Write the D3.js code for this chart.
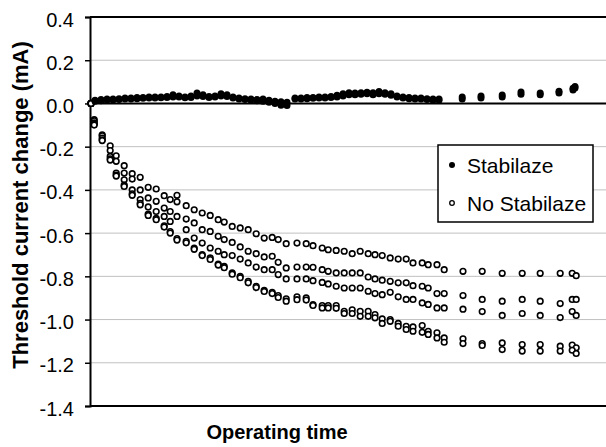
<!DOCTYPE html>
<html>
<head>
<meta charset="utf-8">
<script src="https://cdn.jsdelivr.net/npm/d3@7"></script>
<style>
  body { margin: 0; background: #fff; }
  text { font-family: 'Liberation Sans', Arial, sans-serif; }
</style>
</head>
<body>
<div id="graf"></div>
<script>
// Threshold current change vs operating time

// tiempos (unidades arbitrarias, el eje x no tiene etiquetas)
const tiemposNo = [0, 8, 28, 48, 63, 83, 103, 123, 143, 163, 183, 198, 215, 238, 258, 278, 298, 318, 333, 353,
  373, 393, 413, 433, 453, 468, 488, 515, 538, 555, 578, 593, 613, 633, 653, 673, 693, 710, 728, 748,
  768, 788, 805, 828, 843, 865, 883, 930, 978, 1028, 1078, 1123, 1173, 1203, 1213]

// No Stabilaze: cinco curvas
const noA = [0, -0.075, -0.145, -0.196, -0.242, -0.288, -0.325, -0.342, -0.388, -0.396, -0.427, -0.445, -0.425, -0.473, -0.492, -0.507, -0.518, -0.538, -0.549, -0.569,
  -0.576, -0.584, -0.603, -0.623, -0.620, -0.630, -0.649, -0.646, -0.649, -0.658, -0.669, -0.677, -0.680, -0.684, -0.695, -0.684, -0.695, -0.700, -0.704, -0.715,
  -0.720, -0.720, -0.738, -0.738, -0.746, -0.746, -0.769, -0.777, -0.777, -0.786, -0.786, -0.786, -0.786, -0.786, -0.797]
const noB = [0, -0.080, -0.150, -0.218, -0.268, -0.322, -0.350, -0.400, -0.437, -0.453, -0.484, -0.500, -0.455, -0.535, -0.553, -0.584, -0.592, -0.615, -0.630, -0.643,
  -0.664, -0.684, -0.695, -0.710, -0.707, -0.735, -0.761, -0.757, -0.757, -0.758, -0.769, -0.777, -0.784, -0.784, -0.784, -0.784, -0.803, -0.812, -0.818, -0.823,
  -0.830, -0.830, -0.843, -0.846, -0.854, -0.880, -0.880, -0.889, -0.907, -0.915, -0.907, -0.915, -0.926, -0.907, -0.907]
const noC = [0, -0.090, -0.160, -0.245, -0.322, -0.353, -0.400, -0.445, -0.479, -0.500, -0.523, -0.546, -0.523, -0.584, -0.623, -0.646, -0.669, -0.684, -0.700, -0.704,
  -0.720, -0.738, -0.757, -0.769, -0.769, -0.792, -0.812, -0.812, -0.812, -0.820, -0.828, -0.835, -0.846, -0.854, -0.854, -0.854, -0.869, -0.880, -0.885, -0.874,
  -0.895, -0.907, -0.907, -0.923, -0.930, -0.946, -0.946, -0.952, -0.963, -0.981, -0.972, -0.981, -0.991, -0.963, -0.981]
const noD1 = [0, -0.095, -0.168, -0.256, -0.332, -0.378, -0.418, -0.462, -0.512, -0.532, -0.566, -0.593, -0.625, -0.638, -0.669, -0.700, -0.715, -0.743, -0.754, -0.784,
  -0.800, -0.823, -0.846, -0.865, -0.874, -0.889, -0.904, -0.895, -0.900, -0.931, -0.935, -0.935, -0.935, -0.962, -0.955, -0.962, -0.962, -0.977, -0.997, -1.000,
  -1.018, -1.031, -1.034, -1.028, -1.054, -1.061, -1.085, -1.089, -1.111, -1.108, -1.116, -1.116, -1.123, -1.118, -1.131]
const noD2 = [0, -0.100, -0.172, -0.262, -0.336, -0.384, -0.425, -0.469, -0.518, -0.538, -0.572, -0.600, -0.632, -0.645, -0.675, -0.704, -0.722, -0.748, -0.760, -0.790,
  -0.806, -0.830, -0.852, -0.870, -0.880, -0.898, -0.915, -0.908, -0.910, -0.935, -0.946, -0.946, -0.948, -0.972, -0.972, -0.985, -0.985, -0.992, -1.018, -1.008,
  -1.031, -1.046, -1.054, -1.059, -1.069, -1.085, -1.105, -1.111, -1.120, -1.139, -1.146, -1.146, -1.146, -1.142, -1.157]

// Stabilaze
const tiemposSi = [10, 25, 40, 55, 70, 85, 100, 115, 130, 145, 160, 175, 190, 205, 220, 235, 250, 265, 280, 295,
  310, 325, 340, 355, 370, 385, 400, 415, 430, 445, 460, 475, 490,
  510, 525, 540, 555, 570, 585, 600, 615, 630, 645, 660, 675, 690, 705, 720, 735, 750, 765, 780, 795,
  810, 825, 840, 855, 870,
  928, 975, 1028, 1075, 1123, 1170, 1205, 1210]
const siA = [0.015, 0.018, 0.020, 0.020, 0.022, 0.025, 0.025, 0.028, 0.028, 0.030, 0.030, 0.030, 0.032, 0.040, 0.035, 0.030, 0.035, 0.048, 0.040, 0.032,
  0.035, 0.045, 0.040, 0.030, 0.025, 0.022, 0.020, 0.018, 0.020, 0.015, 0.010, 0.008, 0.005,
  0.025, 0.025, 0.028, 0.028, 0.030, 0.030, 0.032, 0.038, 0.045, 0.050, 0.048, 0.050, 0.052, 0.050, 0.055, 0.050, 0.045, 0.035, 0.030, 0.028,
  0.025, 0.025, 0.022, 0.020, 0.020,
  0.030, 0.034, 0.039, 0.053, 0.048, 0.057, 0.070, 0.078]
const siB = [0.010, 0.012, 0.015, 0.016, 0.018, 0.020, 0.020, 0.022, 0.024, 0.025, 0.025, 0.026, 0.028, 0.030, 0.030, 0.026, 0.028, 0.035, 0.032, 0.028,
  0.030, 0.035, 0.032, 0.025, 0.020, 0.018, 0.015, 0.012, 0.010, 0.005, 0.000, -0.008, -0.010,
  0.020, 0.020, 0.022, 0.024, 0.025, 0.025, 0.028, 0.030, 0.035, 0.040, 0.040, 0.042, 0.045, 0.040, 0.045, 0.042, 0.038, 0.030, 0.025, 0.022,
  0.020, 0.020, 0.018, 0.015, 0.015,
  0.020, 0.025, 0.030, 0.042, 0.040, 0.048, 0.062, 0.072]

// eje y
const yTicks  = [0.4, 0.2, 0.0, -0.2, -0.4, -0.6, -0.8, -1.0, -1.2, -1.4]
const yLabels = ['0.4', '0.2', '0.0', '-0.2', '-0.4', '-0.6', '-0.8', '-1.0', '-1.2', '-1.4']
const leyenda = ['Stabilaze', 'No Stabilaze']

ancho_total = 606
alto_total  = 447
margins = { top: 17, left: 90, right: 0, bottom: 41 }
ancho = ancho_total - margins.left - margins.right
alto  = alto_total - margins.top - margins.bottom

svg = d3.select('#graf').append('svg')
        .attr('width', ancho_total)
        .attr('height', alto_total)

g = svg.append('g')
       .attr('transform', `translate(${ margins.left }, ${ margins.top })`)

// Escaladores
x = d3.scaleLinear().domain([-2.5, 1287.5]).range([0, ancho])
y = d3.scaleLinear().domain([-1.4, 0.4]).range([alto, 0])

// lineas de cuadricula
g.append('g')
  .selectAll('line')
  .data(yTicks.filter(d => d != 0.4 && d != 0 && d != -1.4))
  .enter().append('line')
    .attr('x1', 0).attr('x2', ancho)
    .attr('y1', d => y(d)).attr('y2', d => y(d))
    .attr('stroke', '#c0c0c0')
    .attr('stroke-width', 1)

// bordes negros y linea del cero
;[0.4, 0, -1.4].forEach(v => {
  g.append('line')
    .attr('x1', 0).attr('x2', ancho)
    .attr('y1', y(v)).attr('y2', y(v))
    .attr('stroke', 'black')
    .attr('stroke-width', 2)
})

// eje y
yAxis = d3.axisLeft(y)
          .tickValues(yTicks)
          .tickSize(5)
          .tickPadding(11)
          .tickFormat((d, i) => yLabels[i])
ejeY = g.append('g').call(yAxis)
ejeY.select('.domain').attr('stroke-width', 2)
ejeY.selectAll('.tick line').attr('stroke-width', 1.5)
ejeY.selectAll('.tick text')
    .attr('font-size', '20px')
    .attr('font-family', "'Liberation Sans', Arial, sans-serif")
    .attr('fill', 'black')
    .attr('dy', '0.45em')

// series No Stabilaze (circulos abiertos)
;[noA, noB, noC, noD1, noD2].forEach(serie => {
  g.append('g')
    .selectAll('circle')
    .data(tiemposNo.map((t, i) => ({ t: t, v: serie[i] })))
    .enter().append('circle')
      .attr('cx', d => x(d.t))
      .attr('cy', d => y(d.v))
      .attr('r', 2.8)
      .attr('fill', 'white')
      .attr('stroke', 'black')
      .attr('stroke-width', 1.6)
})

// series Stabilaze (circulos rellenos)
;[siA, siB].forEach(serie => {
  g.append('g')
    .selectAll('circle')
    .data(tiemposSi.map((t, i) => ({ t: t, v: serie[i] })))
    .enter().append('circle')
      .attr('cx', d => x(d.t))
      .attr('cy', d => y(d.v))
      .attr('r', 3.5)
      .attr('fill', 'black')
})

// Leyenda
leg = g.append('g').attr('transform', `translate(${ 438 - margins.left }, ${ 145 - margins.top })`)
leg.append('rect')
  .attr('x', 0).attr('y', 0)
  .attr('width', 155).attr('height', 77)
  .attr('fill', 'white')
  .attr('stroke', 'black')
  .attr('stroke-width', 1.5)

leyenda.forEach((d, i) => {
  leg.append('circle')
    .attr('cx', 14)
    .attr('cy', 20 + i * 38)
    .attr('r', i == 0 ? 3 : 2.3)
    .attr('fill', i == 0 ? 'black' : 'white')
    .attr('stroke', 'black')
    .attr('stroke-width', i == 0 ? 0 : 1.3)
  leg.append('text')
    .attr('x', 29)
    .attr('y', 28 + i * 38)
    .attr('font-size', '21px')
    .attr('fill', 'black')
    .text(d)
})

// titulos de ejes
svg.append('text')
  .attr('x', 277)
  .attr('y', 439)
  .attr('text-anchor', 'middle')
  .attr('font-size', '20px')
  .attr('font-weight', 'bold')
  .text('Operating time')

svg.append('text')
  .attr('transform', 'translate(28, 205) rotate(-90)')
  .attr('text-anchor', 'middle')
  .attr('font-size', '22px')
  .attr('font-weight', 'bold')
  .text('Threshold current change (mA)')
</script>
</body>
</html>
